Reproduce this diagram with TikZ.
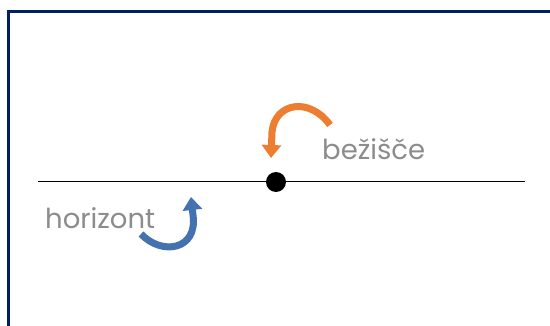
\documentclass[tikz,border=0pt]{standalone}
\usepackage{fontspec}
\setmainfont{Poppins}
\usetikzlibrary{arrows.meta}
\definecolor{framenavy}{RGB}{0,32,96}
\definecolor{labelgray}{RGB}{140,140,140}
\definecolor{turnorange}{RGB}{237,125,49}
\definecolor{turnblue}{RGB}{68,114,176}
\begin{document}
\begin{tikzpicture}
[
    x=1pt, y=-1pt,
    label/.style={text=labelgray, font=\fontsize{27.5}{27.5}\selectfont, inner sep=0pt, anchor=base west},
    turn/.style={line width=7pt, -{Triangle[length=13pt, width=19pt]}},
]
\useasboundingbox (0,0) rectangle (550,326);
\draw [framenavy, line width=3pt] (8.5,340) -- (8.5,11.5) -- (560,11.5);
\coordinate (horL) at (38,182);
\coordinate (horR) at (525,182);
\draw [line width=1pt] (horL) -- (horR);
\node [circle, fill=black, minimum size=20pt, inner sep=0pt] (center) at (276,182) {};
\node [label] (bezisce) at (322,160) {bežišče};
\node [label] (horizont) at (45,229) {horizont};
\draw [turn, turnorange] (330,125) .. controls (310,97) and (275,102) .. (272,132) -- (271,158);
\draw [turn, turnblue] (141,234) .. controls (162,256) and (198,250) .. (193,215) -- (191,197);
\end{tikzpicture}
\end{document}
